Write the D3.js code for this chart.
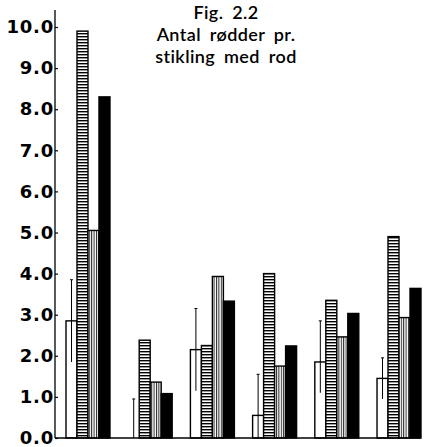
<!DOCTYPE html>
<html><head><meta charset="utf-8">
<script src="https://cdn.jsdelivr.net/npm/d3@7"></script>
<style>html,body{margin:0;padding:0;background:#fff;}</style>
</head><body>
<svg id="c" width="432" height="447"></svg>
<script>
const groups = ["1","2","3","4","5","6"];
const seriesNames = ["open","hstripe","vstripe","black"];
const openVals    = [2.85, 0.0, 2.15, 0.55, 1.85, 1.45];
const openHi      = [3.85, 0.95, 3.15, 1.55, 2.85, 1.95];
const openLo      = [1.85, 0.0, 1.15, 0.0, 1.1, 0.95];
const hstripeVals = [9.9, 2.38, 2.25, 4.0, 3.35, 4.9];
const vstripeVals = [5.05, 1.36, 3.93, 1.75, 2.46, 2.93];
const blackVals   = [8.3, 1.08, 3.33, 2.24, 3.03, 3.64];
const yTicks = [0,1,2,3,4,5,6,7,8,9,10];
const titleLines = ["Fig. 2.2","Antal rødder pr.","stikling med rod"];

const svg = d3.select("#c");
const defs = svg.append("defs");
const ph = defs.append("pattern").attr("id","ph").attr("patternUnits","userSpaceOnUse")
  .attr("width",4).attr("height",3);
ph.append("rect").attr("width",4).attr("height",3).attr("fill","#fff");
ph.append("rect").attr("width",4).attr("height",1.4).attr("fill","#000");
const pv = defs.append("pattern").attr("id","pv").attr("patternUnits","userSpaceOnUse")
  .attr("width",2.4).attr("height",4);
pv.append("rect").attr("width",2.4).attr("height",4).attr("fill","#fff");
pv.append("rect").attr("width",1).attr("height",4).attr("fill","#222");

const y = d3.scaleLinear().domain([0,10]).range([438,27]);
const x0 = d3.scaleBand().domain(groups).range([66,421]).paddingInner(0.293).paddingOuter(0);
const x1 = d3.scaleBand().domain(seriesNames).range([0,x0.bandwidth()]).padding(0);

const fills = {open:"#fff", hstripe:"url(#ph)", vstripe:"url(#pv)", black:"#000"};
const vals = {open:openVals, hstripe:hstripeVals, vstripe:vstripeVals, black:blackVals};

const g = svg.append("g");
groups.forEach((gr,i)=>{
  seriesNames.forEach(s=>{
    const v = vals[s][i];
    if (v<=0) return;
    g.append("rect")
      .attr("x", x0(gr)+x1(s)).attr("width", x1.bandwidth())
      .attr("y", y(v)).attr("height", y(0)-y(v))
      .attr("fill", fills[s]).attr("stroke","#000").attr("stroke-width",1.4);
  });
  const cx = x0(gr)+x1("open")+x1.bandwidth()/2;
  g.append("line").attr("x1",cx).attr("x2",cx).attr("y1",y(openHi[i])).attr("y2",y(openLo[i]))
    .attr("stroke","#000").attr("stroke-width",1);
  g.append("line").attr("x1",cx-1.5).attr("x2",cx+1.5).attr("y1",y(openHi[i])).attr("y2",y(openHi[i]))
    .attr("stroke","#000").attr("stroke-width",1);
});

const ax = svg.append("g").attr("transform","translate(55,0)")
  .call(d3.axisLeft(y).tickValues(yTicks).tickFormat(d3.format(".1f")).tickSizeInner(-3).tickSizeOuter(0).tickPadding(1));
ax.select(".domain").remove();
ax.selectAll(".tick line").attr("stroke","#000").attr("stroke-width",1.2);
ax.selectAll(".tick text").attr("font-family","DejaVu Sans").attr("font-weight","bold")
  .attr("font-size",18).attr("letter-spacing","0.8px").attr("fill","#000");
svg.append("line").attr("x1",55).attr("x2",55).attr("y1",10).attr("y2",y(0))
  .attr("stroke","#000").attr("stroke-width",1.3);
svg.append("line").attr("x1",55).attr("x2",421).attr("y1",y(0)).attr("y2",y(0))
  .attr("stroke","#000").attr("stroke-width",1.5);

svg.append("g").selectAll("text").data(titleLines).join("text")
  .attr("x",226).attr("y",(d,i)=>19+i*22).attr("text-anchor","middle")
  .attr("font-family","Lato").attr("font-weight",600).attr("font-size",18)
  .attr("letter-spacing","0.4px").attr("word-spacing","4px").attr("fill","#000")
  .text(d=>d);
</script>
</body></html>
